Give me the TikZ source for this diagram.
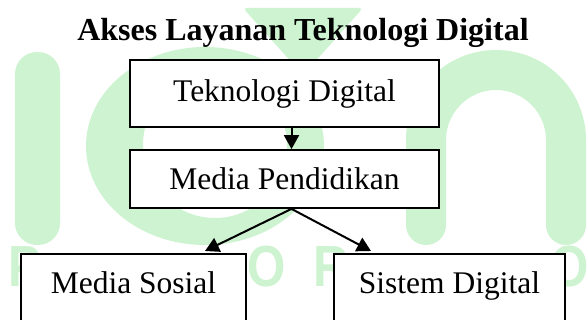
\documentclass[tikz,border=0pt]{standalone}
\usepackage{fontspec}
\setmainfont{Liberation Serif}
\newfontfamily\wmfont{Liberation Sans}
\usetikzlibrary{arrows.meta}
\definecolor{wm}{RGB}{205,243,208}
\begin{document}
\begin{tikzpicture}[x=1pt,y=-1pt,
  mybox/.style={draw, line width=1.8pt, fill=white, inner sep=0pt,
    font=\fontsize{31.5}{36}\selectfont},
  arr/.style={line width=2pt, -{Triangle[length=14pt,width=15pt]}},
  wmletter/.style={text=wm, font=\wmfont\bfseries\fontsize{58}{60}\selectfont,
    inner sep=0pt, anchor=base west, xscale=0.85},
  wmshape/.style={fill=wm}]
\useasboundingbox (0,0) rectangle (587,320);
\clip (0,0) rectangle (587,320);
\fill[white] (0,0) rectangle (587,320);
% watermark
\fill[wmshape, rounded corners=22pt] (15,52) rectangle (60,245);
\fill[wmshape, even odd rule] (205,146) ellipse [x radius=119, y radius=99]
      (215,145) ellipse [x radius=72, y radius=73];
\fill[wmshape, rounded corners=4pt] (243,8) -- (363,8) -- (303,75) -- cycle;
\fill[wmshape] (406,225) -- (406,140) arc[start angle=180, end angle=360, radius=90]
   -- (586,225) arc[start angle=0, end angle=180, radius=20]
   -- (546,140) arc[start angle=360, end angle=180, radius=50]
   -- (446,225) arc[start angle=0, end angle=180, radius=20] -- cycle;
\node[wmletter] (wP) at (8,287) {P};
\node[wmletter] (wO2) at (247,287) {O};
\node[wmletter] (wR) at (313,287) {R};
\node[wmletter] (wO4) at (550,287) {O};
% title
\node[anchor=base, inner sep=0pt, font=\bfseries\fontsize{32}{36}\selectfont] (title) at (303,41) {Akses Layanan Teknologi Digital};
% boxes
\node[mybox, minimum width=309pt, minimum height=67pt] (TD) at (284.5,93.5) {Teknologi Digital};
\node[mybox, minimum width=309pt, minimum height=58pt] (MP) at (284.5,179) {Media Pendidikan};
\node[mybox, minimum width=225pt, minimum height=100pt, anchor=north, text height=21.5pt, text depth=41.5pt] (MS) at (133.5,253) {Media Sosial};
\node[mybox, minimum width=231pt, minimum height=100pt, anchor=north, text height=21.5pt, text depth=41.5pt] (SD) at (449.5,253) {Sistem Digital};
% connectors
\coordinate (tipL) at (205,251);
\coordinate (tipR) at (371,251);
\draw[arr] ([xshift=7pt]TD.south) -- ([xshift=7pt]MP.north);
\draw[arr] ([xshift=7pt]MP.south) -- (tipL);
\draw[arr] ([xshift=7pt]MP.south) -- (tipR);
\end{tikzpicture}
\end{document}
